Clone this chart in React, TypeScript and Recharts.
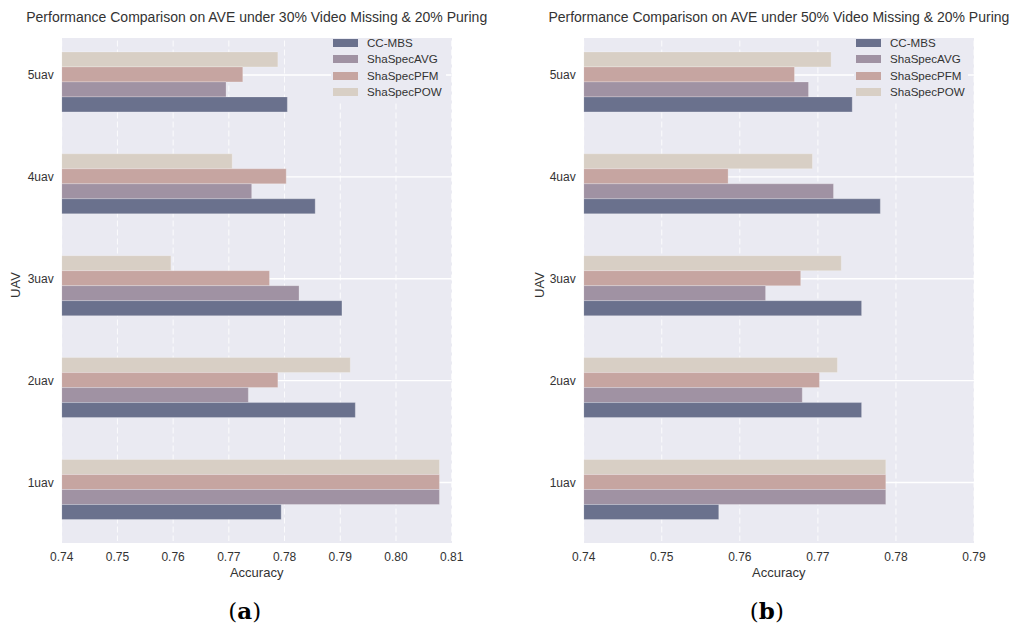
import React from 'react';
import { BarChart, Bar, XAxis, YAxis, CartesianGrid } from 'recharts';

// ---------- data ----------
const categories = ['5uav', '4uav', '3uav', '2uav', '1uav'];
const seriesNames = ['CC-MBS', 'ShaSpecAVG', 'ShaSpecPFM', 'ShaSpecPOW'];

// Panel (a): 30% video missing & 20% puring
const aCCMBS = [0.7805, 0.7855, 0.7903, 0.7927, 0.7794];
const aAVG = [0.7695, 0.7741, 0.7826, 0.7735, 0.8078];
const aPFM = [0.7725, 0.7803, 0.7773, 0.7788, 0.8078];
const aPOW = [0.7788, 0.7706, 0.7596, 0.7918, 0.8078];

// Panel (b): 50% video missing & 20% puring
const bCCMBS = [0.7744, 0.778, 0.7756, 0.7756, 0.7573];
const bAVG = [0.7688, 0.772, 0.7633, 0.768, 0.7787];
const bPFM = [0.767, 0.7585, 0.7678, 0.7702, 0.7787];
const bPOW = [0.7717, 0.7693, 0.773, 0.7725, 0.7787];

const aTicks = [0.74, 0.75, 0.76, 0.77, 0.78, 0.79, 0.8, 0.81];
const bTicks = [0.74, 0.75, 0.76, 0.77, 0.78, 0.79];

const titleA = 'Performance Comparison on AVE under 30% Video Missing & 20% Puring';
const titleB = 'Performance Comparison on AVE under 50% Video Missing & 20% Puring';

// ---------- styles ----------
const COLORS: Record<string, string> = {
  'CC-MBS': '#6a718d',
  ShaSpecAVG: '#a092a3',
  ShaSpecPFM: '#c6a5a1',
  ShaSpecPOW: '#d8cfc5',
};
const BG = '#eaeaf2';
const FONT = '"Liberation Sans", Arial, sans-serif';
const TEXT = '#333333';

const W = 505;
const H = 627;
const PLOT_TOP = 31.5;
const PLOT_BOTTOM = 541;
const BG_TOP = 38;
const BG_BOTTOM = 543;
const XAXIS_H = 30;
const BAR_SHIFT = 7.5; // tick sits on the centre of the 2nd bar from the top

function buildData(cc: number[], avg: number[], pfm: number[], pow: number[]) {
  return categories.map((c, i) => ({
    cat: c,
    'CC-MBS': cc[i],
    ShaSpecAVG: avg[i],
    ShaSpecPFM: pfm[i],
    ShaSpecPOW: pow[i],
  }));
}

const dataA = buildData(aCCMBS, aAVG, aPFM, aPOW);
const dataB = buildData(bCCMBS, bAVG, bPFM, bPOW);

type PanelProps = {
  left: number;
  plotLeft: number; // local
  plotRight: number; // local
  title: string;
  ticks: number[];
  data: any[];
  letter: string;
  yLabelX: number; // local
  legendLeft: number; // local
};

const YTick = (props: any) => {
  const { x, y, payload } = props;
  return (
    <text x={x} y={y - BAR_SHIFT} dy="0.35em" textAnchor="end" fontSize={12} fill={TEXT} fontFamily={FONT}>
      {payload.value}
    </text>
  );
};

const XTick = (props: any) => {
  const { x, y, payload } = props;
  return (
    <text x={x} y={y} dy="0.71em" textAnchor="middle" fontSize={12} fill={TEXT} fontFamily={FONT}>
      {Number(payload.value).toFixed(2)}
    </text>
  );
};

function Panel(p: PanelProps) {
  const plotW = p.plotRight - p.plotLeft;
  const plotCx = p.plotLeft + plotW / 2;
  const order = ['ShaSpecPOW', 'ShaSpecPFM', 'ShaSpecAVG', 'CC-MBS'];
  return (
    <div style={{ position: 'absolute', left: p.left, top: 0, width: W, height: H }}>
      <div
        style={{
          position: 'absolute',
          left: p.plotLeft,
          top: BG_TOP,
          width: plotW,
          height: BG_BOTTOM - BG_TOP,
          background: BG,
        }}
      />
      <div style={{ position: 'absolute', left: 0, top: 0 }}>
        <BarChart
          width={W}
          height={H}
          data={p.data}
          layout="vertical"
          barCategoryGap="20%"
          barGap={0}
          margin={{ top: PLOT_TOP, right: W - p.plotRight, bottom: H - PLOT_BOTTOM - XAXIS_H, left: 0 }}
        >
          <CartesianGrid
            horizontal={false}
            vertical={true}
            stroke="#ffffff"
            strokeOpacity={0.85}
            strokeDasharray="6 3"
            strokeWidth={1}
            fill="none"
          />
          <CartesianGrid
            horizontal={true}
            vertical={false}
            stroke="#ffffff"
            strokeWidth={1.4}
            fill="none"
            horizontalCoordinatesGenerator={({ offset }: any) =>
              categories.map((_, i) => offset.top + (offset.height / categories.length) * (i + 0.5) - BAR_SHIFT)
            }
          />
          <XAxis
            type="number"
            domain={[p.ticks[0], p.ticks[p.ticks.length - 1]]}
            ticks={p.ticks}
            allowDataOverflow
            height={XAXIS_H}
            axisLine={false}
            tickLine={false}
            tickSize={0}
            tickMargin={11}
            tick={<XTick />}
            interval={0}
          />
          <YAxis
            type="category"
            dataKey="cat"
            width={p.plotLeft}
            axisLine={false}
            tickLine={false}
            tickSize={0}
            tickMargin={8}
            tick={<YTick />}
            interval={0}
          />
          {order.map((k) => (
            <Bar
              key={k}
              dataKey={k}
              fill={COLORS[k]}
              stroke="#ffffff"
              strokeOpacity={0.3}
              strokeWidth={0.8}
              isAnimationActive={false}
            />
          ))}
        </BarChart>
      </div>
      {/* title */}
      <div
        style={{
          position: 'absolute',
          left: plotCx - 300,
          width: 600,
          top: 8,
          textAlign: 'center',
          fontFamily: FONT,
          fontSize: 14,
          color: TEXT,
          whiteSpace: 'nowrap',
          lineHeight: '18px',
        }}
      >
        {p.title}
      </div>
      {/* legend background (hides grid line behind the legend) */}
      <div
        style={{
          position: 'absolute',
          left: p.legendLeft - 2,
          top: BG_TOP + 1,
          width: p.plotRight - p.legendLeft - 4,
          height: 62,
          background: BG,
        }}
      />
      {/* legend */}
      <div
        style={{
          position: 'absolute',
          left: p.legendLeft,
          top: 34.8,
          fontFamily: FONT,
          fontSize: 11.6,
          color: TEXT,
        }}
      >
        {seriesNames.map((s) => (
          <div key={s} style={{ display: 'flex', alignItems: 'center', height: 16.4 }}>
            <div style={{ width: 25, height: 8, background: COLORS[s], marginRight: 9 }} />
            <span style={{ lineHeight: '16px' }}>{s}</span>
          </div>
        ))}
      </div>
      {/* x label */}
      <div
        style={{
          position: 'absolute',
          left: plotCx - 100,
          width: 200,
          top: 564,
          textAlign: 'center',
          fontFamily: FONT,
          fontSize: 13,
          color: TEXT,
          lineHeight: '17px',
        }}
      >
        Accuracy
      </div>
      {/* y label */}
      <div
        style={{
          position: 'absolute',
          left: p.yLabelX - 40,
          top: 285 - 9,
          width: 80,
          height: 18,
          textAlign: 'center',
          fontFamily: FONT,
          fontSize: 13,
          color: TEXT,
          lineHeight: '18px',
          transform: 'rotate(-90deg)',
        }}
      >
        UAV
      </div>
      {/* sub-figure letter */}
      <div
        style={{
          position: 'absolute',
          left: plotCx - 12 - 100,
          width: 200,
          top: 596,
          textAlign: 'center',
          fontFamily: '"DejaVu Serif", "Liberation Serif", serif',
          fontSize: 23,
          color: '#000',
          lineHeight: '30px',
        }}
      >
        (<b>{p.letter}</b>)
      </div>
    </div>
  );
}

export default function App() {
  return (
    <div style={{ position: 'absolute', left: 0, top: 0, width: 1010, height: 627, background: '#fff', overflow: 'hidden' }}>
      <Panel
        left={0}
        plotLeft={61.7}
        plotRight={451.7}
        title={titleA}
        ticks={aTicks}
        data={dataA}
        letter="a"
        yLabelX={16}
        legendLeft={333}
      />
      <Panel
        left={505}
        plotLeft={78.7}
        plotRight={469}
        title={titleB}
        ticks={bTicks}
        data={dataB}
        letter="b"
        yLabelX={35}
        legendLeft={351}
      />
    </div>
  );
}
